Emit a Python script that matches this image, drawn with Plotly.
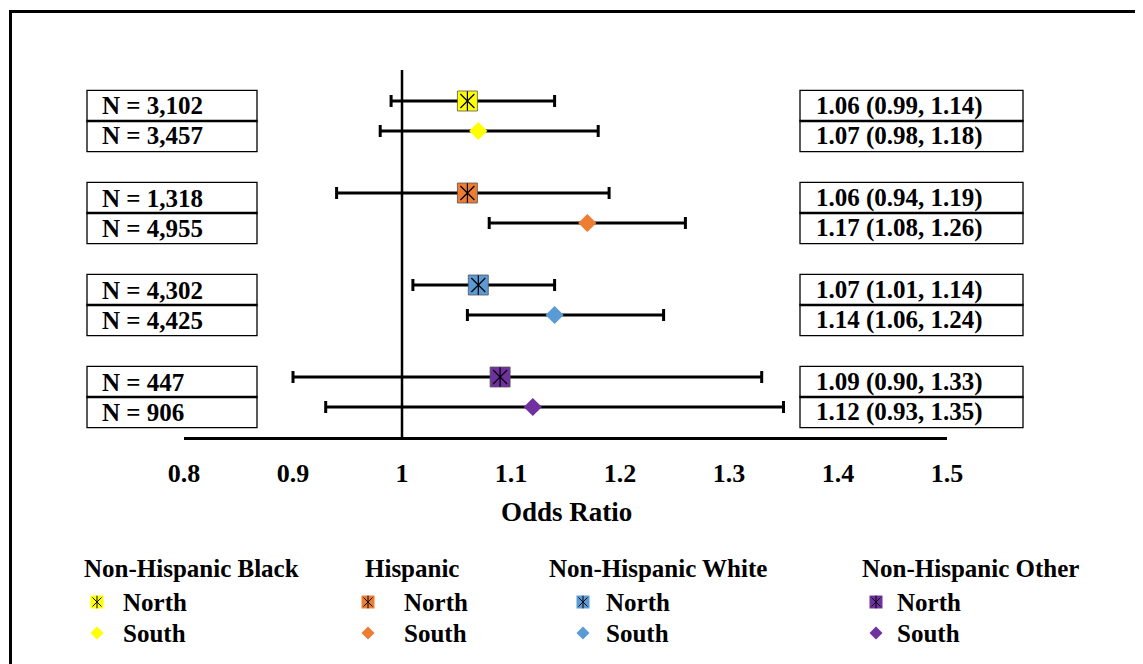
import plotly.graph_objects as go

# ---------------- data ----------------
groups = ["Non-Hispanic Black", "Hispanic", "Non-Hispanic White", "Non-Hispanic Other"]
colors = ["#FFFF00", "#ED7D31", "#5B9BD5", "#7030A0"]

north_or = [1.06, 1.06, 1.07, 1.09]
north_lo = [0.99, 0.94, 1.01, 0.90]
north_hi = [1.14, 1.19, 1.14, 1.33]
north_n = [3102, 1318, 4302, 447]

south_or = [1.07, 1.17, 1.14, 1.12]
south_lo = [0.98, 1.08, 1.06, 0.93]
south_hi = [1.18, 1.26, 1.24, 1.35]
south_n = [3457, 4955, 4425, 906]

tick_vals = [0.8, 0.9, 1.0, 1.1, 1.2, 1.3, 1.4, 1.5]
tick_text = ["0.8", "0.9", "1", "1.1", "1.2", "1.3", "1.4", "1.5"]

# ---------------- layout helpers ----------------
PAGE_OFF = 8            # browser body margin
W, H = 1143 - PAGE_OFF, 664 - PAGE_OFF
FONT = "Liberation Serif, Times New Roman, serif"


def px(x):
    return (x - PAGE_OFF) / W


def py(y):
    return 1 - (y - PAGE_OFF) / H


GROUP_STEP = 92 / 30.0  # group spacing in row units
BOX_OFF = 5 / 30.0
TXT = 25

fig = go.Figure()

rows = []  # (y, or, lo, hi, n, color, kind)
for g in range(len(groups)):
    yn = g * GROUP_STEP
    ys = yn + 1
    rows.append((yn, north_or[g], north_lo[g], north_hi[g], north_n[g], colors[g], "north"))
    rows.append((ys, south_or[g], south_lo[g], south_hi[g], south_n[g], colors[g], "south"))

# error bars + markers
for (y, o, lo, hi, n, c, kind) in rows:
    fig.add_trace(go.Scatter(
        x=[o], y=[y], mode="markers",
        marker=dict(size=1, color="rgba(0,0,0,0)"),
        error_x=dict(type="data", symmetric=False, array=[hi - o], arrayminus=[o - lo],
                     color="black", thickness=3, width=6),
        showlegend=False, hoverinfo="skip", xaxis="x", yaxis="y"))
for (y, o, lo, hi, n, c, kind) in rows:
    if kind == "north":
        fig.add_trace(go.Scatter(
            x=[o], y=[y], mode="markers",
            marker=dict(symbol="square", size=20, color=c, line=dict(color="#555555", width=0.8)),
            showlegend=False, xaxis="x", yaxis="y"))
        for sym in ["x-thin-open", "line-ns-open"]:
            fig.add_trace(go.Scatter(
                x=[o], y=[y], mode="markers",
                marker=dict(symbol=sym, size=14, color="black", line=dict(color="black", width=1.2)),
                showlegend=False, xaxis="x", yaxis="y"))
    else:
        fig.add_trace(go.Scatter(
            x=[o], y=[y], mode="markers",
            marker=dict(symbol="diamond", size=14, color=c, line=dict(width=0)),
            showlegend=False, xaxis="x", yaxis="y"))

shapes = []
annotations = []

# vertical reference line at OR = 1
shapes.append(dict(type="line", xref="x", yref="y domain", x0=1, x1=1, y0=0, y1=1,
                   line=dict(color="black", width=2.5)))

# boxes with N and OR (CI)
for (y, o, lo, hi, n, c, kind) in rows:
    yc = y + BOX_OFF
    shapes.append(dict(type="rect", xref="paper", yref="y", x0=px(87), x1=px(257),
                       y0=yc - 0.52, y1=yc + 0.52, line=dict(color="black", width=1.3)))
    shapes.append(dict(type="rect", xref="paper", yref="y", x0=px(800), x1=px(1023),
                       y0=yc - 0.52, y1=yc + 0.52, line=dict(color="black", width=1.3)))
    annotations.append(dict(xref="paper", yref="y", x=px(100), y=yc, xanchor="left", yanchor="middle",
                            text=f"N = {n:,}", showarrow=False,
                            font=dict(family=FONT, size=TXT, color="black", weight="bold")))
    annotations.append(dict(xref="paper", yref="y", x=px(814), y=yc, xanchor="left", yanchor="middle",
                            text=f"{o:.2f} ({lo:.2f}, {hi:.2f})", showarrow=False,
                            font=dict(family=FONT, size=TXT, color="black", weight="bold")))

# axis title
annotations.append(dict(xref="paper", yref="paper", x=px(566), y=py(512), xanchor="center", yanchor="middle",
                        text="Odds Ratio", showarrow=False,
                        font=dict(family=FONT, size=27, color="black", weight="bold")))

# outer frame
shapes.append(dict(type="rect", xref="paper", yref="paper", x0=px(10.5), x1=1.05, y0=-0.05, y1=py(11.5),
                   line=dict(color="black", width=3)))

# custom legend
leg_title_x = [82, 363, 547, 860]
leg_marker_x = [97, 368, 583, 876]
leg_text_x = [121, 402, 604, 895]
for g in range(len(groups)):
    annotations.append(dict(xref="paper", yref="paper", x=px(leg_title_x[g]), y=py(568),
                            xanchor="left", yanchor="middle", text=groups[g], showarrow=False,
                            font=dict(family=FONT, size=TXT, color="black", weight="bold")))
    for lab, yy in [("North", 602), ("South", 633)]:
        annotations.append(dict(xref="paper", yref="paper", x=px(leg_text_x[g]), y=py(yy),
                                xanchor="left", yanchor="middle", text=lab, showarrow=False,
                                font=dict(family=FONT, size=TXT, color="black", weight="bold")))
    fig.add_trace(go.Scatter(x=[leg_marker_x[g]], y=[602], mode="markers",
                             marker=dict(symbol="square", size=13, color=colors[g], line=dict(width=0)),
                             showlegend=False, hoverinfo="skip", xaxis="x2", yaxis="y2"))
    for sym in ["x-thin-open", "line-ns-open"]:
        fig.add_trace(go.Scatter(x=[leg_marker_x[g]], y=[602], mode="markers",
                                 marker=dict(symbol=sym, size=9, color="black", line=dict(color="black", width=1)),
                                 showlegend=False, hoverinfo="skip", xaxis="x2", yaxis="y2"))
    fig.add_trace(go.Scatter(x=[leg_marker_x[g]], y=[633], mode="markers",
                             marker=dict(symbol="diamond", size=10, color=colors[g], line=dict(width=0)),
                             showlegend=False, hoverinfo="skip", xaxis="x2", yaxis="y2"))

n_last = (len(groups) - 1) * GROUP_STEP + 1

fig.update_layout(
    width=W, height=H,
    margin=dict(l=0, r=0, t=0, b=0, autoexpand=False),
    paper_bgcolor="white", plot_bgcolor="rgba(0,0,0,0)",
    showlegend=False,
    xaxis=dict(domain=[px(184), px(947)], range=[0.8, 1.5], tickvals=tick_vals, ticktext=tick_text,
               showgrid=False, zeroline=False, showline=True, linecolor="black", linewidth=3,
               ticks="", ticklabelstandoff=11, anchor="y", automargin=False,
               tickfont=dict(family=FONT, size=26, color="black", weight="bold")),
    yaxis=dict(domain=[py(437), py(70)], range=[n_last + 1, -31 / 30.0], visible=False,
               showgrid=False, zeroline=False, anchor="x", automargin=False),
    xaxis2=dict(domain=[0, 1], range=[PAGE_OFF, PAGE_OFF + W], visible=False, anchor="y2", automargin=False),
    yaxis2=dict(domain=[0, 1], range=[PAGE_OFF + H, PAGE_OFF], visible=False, anchor="x2", automargin=False),
    shapes=shapes,
    annotations=annotations,
)

fig.write_html("out.html")
